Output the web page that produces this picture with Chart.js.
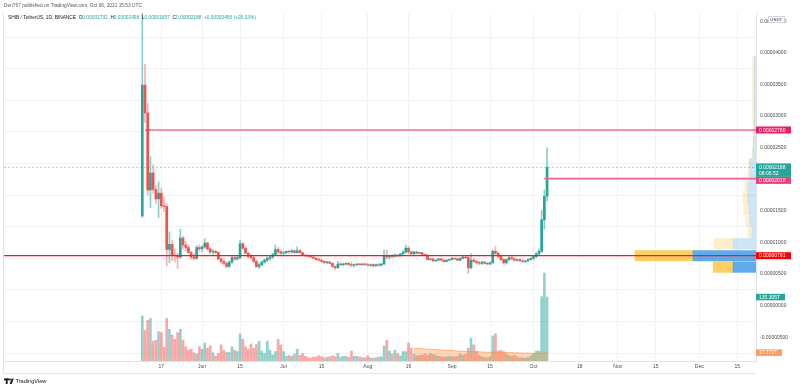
<!DOCTYPE html>
<html>
<head>
<meta charset="utf-8">
<script src="https://cdn.jsdelivr.net/npm/chart.js@4.4.0/dist/chart.umd.min.js"></script>
<style>
  html, body { margin: 0; padding: 0; background: #fff; }
</style>
</head>
<body>
<canvas id="chart" width="800" height="389"></canvas>
<script>
// prices in millionths of USDT (1 = 0.00000100), one candle per day from May 10, 2021 (day 0)
const opens = [
  14.2, 34.9, 30.5, 18.3, 21.0, 18.4, 16.9, 17.8, 15.8, 15.7,
  8.9, 9.7, 8.0, 7.9, 7.7, 10.7, 9.6, 9.2, 8.4, 7.7,
  7.5, 9.2, 9.0, 9.3, 9.9, 9.0, 8.5, 8.6, 8.4, 7.4,
  7.0, 6.7, 6.2, 6.9, 7.6, 7.4, 7.6, 9.8, 9.1, 8.3,
  7.8, 7.6, 7.0, 6.2, 6.5, 6.9, 7.2, 7.5, 7.7, 8.1,
  8.9, 8.5, 8.3, 8.4, 8.6, 8.5, 8.7, 8.4, 8.7, 8.4,
  8.0, 7.9, 7.8, 7.7, 7.5, 7.3, 7.2, 7.0, 6.8, 6.9,
  6.7, 6.2, 6.0, 6.6, 6.5, 6.6, 6.7, 6.5, 6.4, 6.5,
  6.6, 6.5, 6.6, 6.5, 6.4, 6.5, 6.3, 6.5, 6.4, 6.6,
  7.8, 7.7, 7.9, 7.8, 8.0, 7.9, 8.2, 8.5, 9.1, 8.5,
  8.2, 8.5, 8.3, 8.4, 8.1, 8.0, 7.3, 7.4, 7.1, 7.2,
  7.4, 7.2, 7.0, 7.2, 7.3, 7.5, 7.4, 7.2, 7.5, 7.7,
  7.6, 6.0, 7.2, 7.0, 6.8, 6.7, 6.9, 6.7, 6.6, 6.8,
  8.6, 8.3, 7.8, 7.3, 6.8, 7.3, 7.6, 7.4, 7.2, 7.3,
  7.1, 7.0, 7.1, 7.3, 7.5, 7.8, 8.2, 8.6, 13.6, 17.32
];
const highs = [
  52.0, 38.2, 32.0, 23.6, 22.3, 19.0, 19.6, 18.6, 17.2, 16.1,
  11.7, 10.3, 9.0, 8.3, 12.1, 11.0, 10.2, 9.6, 8.6, 8.2,
  9.5, 9.6, 9.5, 10.6, 10.1, 9.2, 8.9, 8.8, 8.6, 7.6,
  7.3, 7.0, 7.1, 7.8, 7.9, 8.0, 10.4, 10.0, 9.3, 8.5,
  8.1, 7.9, 7.3, 6.8, 7.1, 7.4, 7.7, 7.9, 8.3, 9.6,
  9.2, 8.8, 8.6, 8.7, 8.8, 8.9, 8.8, 9.3, 8.9, 8.5,
  8.2, 8.1, 8.0, 7.9, 7.6, 7.5, 7.3, 7.1, 7.0, 7.0,
  6.8, 6.3, 7.0, 6.8, 6.7, 6.8, 6.8, 6.9, 6.6, 6.7,
  6.7, 6.7, 6.8, 6.7, 6.6, 6.6, 6.6, 6.7, 6.7, 8.8,
  8.8, 8.0, 8.1, 8.2, 8.1, 8.3, 8.7, 9.6, 9.3, 8.6,
  8.6, 8.6, 8.5, 8.5, 8.2, 8.1, 7.5, 7.5, 7.3, 7.5,
  7.5, 7.3, 7.3, 7.4, 7.6, 7.6, 7.5, 7.6, 7.8, 7.8,
  7.8, 8.2, 7.5, 7.2, 7.0, 7.0, 7.0, 6.9, 6.9, 8.9,
  9.4, 8.5, 8.0, 7.4, 7.4, 7.8, 7.8, 7.6, 7.4, 7.4,
  7.3, 7.2, 7.4, 7.6, 7.9, 8.4, 9.0, 15.1, 18.3, 24.98
];
const lows = [
  14.0, 29.0, 17.5, 15.5, 17.8, 16.2, 13.9, 15.4, 14.9, 6.3,
  6.8, 7.1, 6.9, 5.9, 7.5, 9.0, 8.6, 8.2, 7.4, 7.2,
  7.3, 8.6, 8.5, 9.1, 8.8, 8.2, 8.1, 8.2, 7.3, 6.6,
  6.4, 6.0, 6.1, 6.7, 7.1, 7.2, 7.4, 8.9, 8.2, 7.6,
  7.4, 6.8, 6.0, 5.8, 6.3, 6.7, 7.0, 7.2, 7.5, 8.0,
  8.2, 8.1, 8.0, 8.2, 8.3, 8.3, 8.3, 8.3, 8.3, 7.9,
  7.8, 7.7, 7.6, 7.4, 7.2, 7.0, 6.9, 6.7, 6.6, 6.6,
  6.1, 5.7, 5.9, 6.3, 6.3, 6.4, 6.4, 6.2, 6.1, 6.3,
  6.4, 6.3, 6.4, 6.3, 6.2, 6.2, 6.2, 6.3, 6.3, 6.5,
  7.4, 7.4, 7.6, 7.7, 7.7, 7.8, 8.1, 8.3, 8.2, 7.9,
  8.1, 8.2, 8.2, 8.0, 7.9, 7.2, 7.2, 7.0, 7.0, 7.1,
  7.1, 6.9, 6.9, 7.1, 7.2, 7.3, 7.1, 7.1, 7.4, 7.5,
  5.1, 5.8, 6.9, 6.6, 6.5, 6.5, 6.6, 6.5, 6.5, 6.7,
  7.9, 7.6, 7.1, 6.6, 6.6, 7.1, 7.3, 7.0, 7.0, 7.0,
  6.9, 6.8, 7.0, 7.2, 7.3, 7.6, 8.0, 8.4, 12.1, 16.57
];
const closes = [
  34.9, 30.5, 18.3, 21.0, 18.4, 16.9, 17.8, 15.8, 15.7, 8.9,
  9.7, 8.0, 7.9, 7.7, 10.7, 9.6, 9.2, 8.4, 7.7, 7.5,
  9.2, 9.0, 9.3, 9.9, 9.0, 8.5, 8.6, 8.4, 7.4, 7.0,
  6.7, 6.2, 6.9, 7.6, 7.4, 7.6, 9.8, 9.1, 8.3, 7.8,
  7.6, 7.0, 6.2, 6.5, 6.9, 7.2, 7.5, 7.7, 8.1, 8.9,
  8.5, 8.3, 8.4, 8.6, 8.5, 8.7, 8.4, 8.7, 8.4, 8.0,
  7.9, 7.8, 7.7, 7.5, 7.3, 7.2, 7.0, 6.8, 6.9, 6.7,
  6.2, 6.0, 6.6, 6.5, 6.6, 6.7, 6.5, 6.4, 6.5, 6.6,
  6.5, 6.6, 6.5, 6.4, 6.5, 6.3, 6.5, 6.4, 6.6, 7.8,
  7.7, 7.9, 7.8, 8.0, 7.9, 8.2, 8.5, 9.1, 8.5, 8.2,
  8.5, 8.3, 8.4, 8.1, 8.0, 7.3, 7.4, 7.1, 7.2, 7.4,
  7.2, 7.0, 7.2, 7.3, 7.5, 7.4, 7.2, 7.5, 7.7, 7.6,
  6.0, 7.2, 7.0, 6.8, 6.7, 6.9, 6.7, 6.6, 6.8, 8.6,
  8.3, 7.8, 7.3, 6.8, 7.3, 7.6, 7.4, 7.2, 7.3, 7.1,
  7.0, 7.1, 7.3, 7.5, 7.8, 8.2, 8.6, 13.6, 17.32, 21.88
];
// daily volume, trillions of SHIB
const volumes = [
  95, 65, 86, 90, 42, 44, 62, 60, 29, 90,
  67, 55, 46, 60, 67, 44, 30, 23, 25, 17.5,
  15, 30, 25, 38, 27, 32, 17.5, 10.5, 16, 34,
  23, 18, 18, 30, 23, 20, 57, 46, 30, 25,
  36, 27, 35, 42, 21, 16, 42, 23, 12.7, 20,
  46, 34, 20, 10, 12, 10, 15, 25, 12, 16,
  10, 7, 6, 8, 9, 11, 9, 7, 8, 9,
  11, 9, 16, 8, 10, 10, 8, 21, 10, 10,
  9, 7, 7, 11, 7, 6, 7, 8, 9, 32,
  44, 21, 15, 23, 16, 11, 20, 20, 38, 27,
  15, 11, 12, 12, 15, 12, 16, 14, 12, 10,
  9, 8, 9, 10, 9, 9, 10, 15, 12, 14,
  27, 48, 34, 20, 12, 9, 7, 7, 9, 53,
  58, 21, 23, 20, 15, 12, 10, 12, 9, 7,
  7, 6, 8, 11, 15, 21, 21, 136, 186, 135.305
];
// volume moving average, shown from day 100 (Aug 18)
const volMaStart = 100;
const volMa = [
  26.8, 26.5, 26.1, 25.8, 25.4, 25.0, 24.7, 24.3, 24.0, 23.6,
  23.2, 22.9, 22.5, 22.2, 21.8, 21.5, 21.2, 20.8, 20.5, 20.2,
  20.0, 20.1, 20.0, 19.7, 19.3, 19.0, 18.7, 18.5, 18.3, 18.6,
  18.9, 18.7, 18.5, 18.2, 18.0, 17.8, 17.6, 17.4, 17.2, 17.0,
  16.8, 16.6, 16.5, 16.4, 16.3, 16.3, 16.4, 16.9, 17.4, 17.771
];

// visible range volume profile: row bottom price, up / down volume, value area flag
const profileLow = [5.2, 7.0, 8.9, 10.7, 12.5, 14.3, 16.1, 17.9, 19.7, 21.5, 23.3, 25.1, 26.9, 28.7, 30.5, 32.3, 34.1, 35.9, 37.7];
const profileUp = [122, 335, 122, 21, 32, 37, 43, 43, 32, 32, 16, 12, 9, 9, 9, 9, 9, 9, 9];
const profileDown = [106, 309, 101, 21, 21, 27, 27, 16, 11, 8, 3, 5, 9, 9, 9, 9, 9, 9, 9];
const profileInValue = [true, true, false, false, false, false, false, false, false, false, false, false, false, false, false, false, false, false, false];
const profileRow = 1.8;

// drawn horizontal levels
const levelPrices = [7.91, 27.80, 20.10];
const levelStartDays = [null, 1, 148];
const levelColors = ['#f01b1b', '#d62f62', '#f06292'];
const levelLabelColors = ['#ff0000', '#e91e63', '#ec407a'];

// time axis
const xTickDays = [7, 22, 36, 52, 66, 83, 98, 114, 128, 144, 161, 175, 189, 205, 219];
const xTickLabels = ['17', 'Jun', '15', 'Jul', '15', 'Aug', '16', 'Sep', '15', 'Oct', '18', 'Nov', '15', 'Dec', '15'];

const X_MIN = -50.9, X_MAX = 225.9;
const UP = '#26a69a', DOWN = '#ef5350';
const UP_SOFT = 'rgba(38,166,154,0.5)', DOWN_SOFT = 'rgba(239,83,80,0.5)';
const FONT = '"Liberation Sans", Arial, sans-serif';
const fmt = v => (v / 1e6).toFixed(8);

const isUp = opens.map((o, i) => closes[i] >= o);
const last = closes.length - 1;

const datasets = [];

datasets.push({
  type: 'bar', label: 'volume', yAxisID: 'yVol', xAxisID: 'x', order: 10,
  data: volumes.map((v, i) => ({ x: i, y: v })),
  backgroundColor: isUp.map(u => u ? UP_SOFT : DOWN_SOFT),
  barThickness: 2, grouped: false
});
datasets.push({
  type: 'line', label: 'volume ma', yAxisID: 'yVol', xAxisID: 'x', order: 9,
  data: volMa.map((v, k) => ({ x: volMaStart + k, y: v })),
  borderColor: 'rgba(255,140,60,0.6)', borderWidth: 1,
  backgroundColor: 'rgba(255,140,60,0.35)', fill: 'origin',
  pointRadius: 0, tension: 0
});
datasets.push({
  type: 'bar', label: 'profile up', indexAxis: 'y', xAxisID: 'xProf', yAxisID: 'y', order: 8,
  data: profileLow.map((p, i) => ({ x: [0, profileUp[i]], y: p + profileRow / 2 })),
  backgroundColor: profileInValue.map(f => f ? 'rgba(30,136,229,0.7)' : 'rgba(30,136,229,0.22)'),
  barThickness: 10.5, grouped: false
});
datasets.push({
  type: 'bar', label: 'profile down', indexAxis: 'y', xAxisID: 'xProf', yAxisID: 'y', order: 8,
  data: profileLow.map((p, i) => ({ x: [profileUp[i], profileUp[i] + profileDown[i]], y: p + profileRow / 2 })),
  backgroundColor: profileInValue.map(f => f ? 'rgba(251,192,45,0.75)' : 'rgba(251,192,45,0.25)'),
  barThickness: 10.5, grouped: false
});
datasets.push({
  type: 'line', label: 'last price', xAxisID: 'x', yAxisID: 'y', order: 7,
  data: [{ x: X_MIN, y: closes[last] }, { x: X_MAX, y: closes[last] }],
  borderColor: 'rgba(38,166,154,0.45)', borderWidth: 1, borderDash: [2, 2],
  pointRadius: 0, fill: false
});
datasets.push({
  type: 'bar', label: 'wicks', xAxisID: 'x', yAxisID: 'y', order: 3,
  data: lows.map((l, i) => ({ x: i, y: [l, highs[i]] })),
  backgroundColor: isUp.map(u => u ? 'rgba(38,166,154,0.55)' : 'rgba(239,83,80,0.45)'),
  barThickness: 1, grouped: false
});
datasets.push({
  type: 'bar', label: 'bodies', xAxisID: 'x', yAxisID: 'y', order: 2,
  data: opens.map((o, i) => ({ x: i, y: [o, closes[i]] })),
  backgroundColor: isUp.map(u => u ? UP : DOWN),
  barThickness: 2, grouped: false
});
levelPrices.forEach((p, k) => {
  datasets.push({
    type: 'line', label: 'level ' + k, xAxisID: 'x', yAxisID: 'y', order: 1,
    data: [{ x: levelStartDays[k] === null ? X_MIN : levelStartDays[k], y: p }, { x: X_MAX, y: p }],
    borderColor: levelColors[k], borderWidth: k === 2 ? 1.6 : 1.2,
    pointRadius: 0, fill: false
  });
});

function badge(ctx, x, yc, text, bg, h) {
  ctx.font = '5px ' + FONT;
  const w = 35;
  ctx.fillStyle = bg;
  ctx.fillRect(x, yc - h / 2, w, h);
  ctx.fillStyle = '#fff';
  ctx.textBaseline = 'middle';
  ctx.textAlign = 'left';
  ctx.fillText(text, x + 3, yc + 0.3);
}

const decor = {
  id: 'decor',
  afterDraw(chart) {
    const ctx = chart.ctx;
    const ys = chart.scales.y, yv = chart.scales.yVol, area = chart.chartArea;
    ctx.save();
    // frame lines
    ctx.strokeStyle = '#e0e3eb';
    ctx.lineWidth = 1;
    ctx.beginPath();
    ctx.moveTo(area.left, area.bottom + 12.5); ctx.lineTo(area.right, area.bottom + 12.5);
    ctx.moveTo(area.left - 0.5, area.top); ctx.lineTo(area.left - 0.5, area.bottom + 12.5);
    ctx.stroke();

    // header
    ctx.textBaseline = 'middle';
    ctx.textAlign = 'left';
    ctx.font = '4.8px ' + FONT;
    ctx.fillStyle = '#555';
    ctx.fillText('Den767 published on TradingView.com, Oct 06, 2021 15:53 UTC', 4, 6);
    const chg = closes[last] - closes[last - 1];
    const pct = chg / closes[last - 1] * 100;
    const parts = [
      ['SHIB / TetherUS, 1D, BINANCE  ', '#131722'],
      ['O', '#131722'], [fmt(opens[last]), UP],
      ['  H', '#131722'], [fmt(highs[last]), UP],
      ['  L', '#131722'], [fmt(lows[last]), UP],
      ['  C', '#131722'], [fmt(closes[last]), UP],
      ['  +' + fmt(chg) + ' (+' + pct.toFixed(2) + '%)', UP]
    ];
    let x = 8;
    parts.forEach(([t, c]) => {
      ctx.fillStyle = c;
      ctx.fillText(t, x, 18);
      x += ctx.measureText(t).width;
    });

    // price scale badges
    const bx = area.right;
    const curY = ys.getPixelForValue(closes[last]);
    badge(ctx, bx, ys.getPixelForValue(levelPrices[1]), fmt(levelPrices[1]), levelLabelColors[1], 7);
    ctx.fillStyle = UP;
    ctx.fillRect(bx, curY - 4, 35, 13.5);
    ctx.fillStyle = '#fff';
    ctx.font = '5px ' + FONT;
    ctx.fillText(fmt(closes[last]), bx + 3, curY);
    ctx.fillText('08:06:52', bx + 3, curY + 6);
    const y2010 = Math.max(ys.getPixelForValue(levelPrices[2]), curY + 9.5 + 3.5);
    badge(ctx, bx, y2010, fmt(levelPrices[2]), levelLabelColors[2], 7);
    badge(ctx, bx, ys.getPixelForValue(levelPrices[0]), fmt(levelPrices[0]), levelLabelColors[0], 7);
    // volume badges
    ctx.font = '5px ' + FONT;
    const vY = yv.getPixelForValue(volumes[last]);
    ctx.fillStyle = UP;
    ctx.fillRect(bx, vY - 3.2, 29, 6.5);
    ctx.fillStyle = '#fff';
    ctx.fillText(volumes[last].toFixed(3) + 'T', bx + 3, vY + 0.3);
    const mY = yv.getPixelForValue(volMa[volMa.length - 1]);
    ctx.fillStyle = '#ff9b57';
    ctx.fillRect(bx, mY - 3.2, 26, 6.5);
    ctx.fillStyle = '#fff';
    ctx.fillText(volMa[volMa.length - 1].toFixed(3) + 'T', bx + 3, mY + 0.3);

    // currency box
    ctx.fillStyle = '#fff';
    ctx.strokeStyle = '#d1d4dc';
    ctx.fillRect(768, 16.5, 17, 6.5);
    ctx.strokeRect(768.5, 16.5, 16, 6);
    ctx.fillStyle = '#131722';
    ctx.font = '4.4px ' + FONT;
    ctx.fillText('USDT', 770.3, 19.9);

    // logo
    ctx.fillStyle = '#131722';
    ctx.fillRect(4, 378.5, 5, 1.8);
    ctx.fillRect(5.8, 378.5, 1.8, 5.5);
    ctx.beginPath(); ctx.arc(10, 379.5, 1, 0, Math.PI * 2); ctx.fill();
    ctx.beginPath();
    ctx.moveTo(11.8, 378.5); ctx.lineTo(13.8, 378.5); ctx.lineTo(11.6, 384); ctx.lineTo(9.6, 384);
    ctx.closePath(); ctx.fill();
    ctx.font = '5.6px ' + FONT;
    ctx.fillText('TradingView', 15.5, 381.5);
    ctx.restore();
  }
};

new Chart(document.getElementById('chart'), {
  type: 'bar',
  data: { datasets },
  options: {
    responsive: false,
    animation: false,
    layout: { padding: { left: 4, right: 4, top: 13, bottom: 16 } },
    plugins: { legend: { display: false }, tooltip: { enabled: false } },
    scales: {
      x: {
        type: 'linear', position: 'bottom', min: X_MIN, max: X_MAX, offset: false,
        grid: { color: '#f0f2f5', drawTicks: false, offset: false },
        border: { color: '#e0e3eb' },
        afterBuildTicks: s => { s.ticks = xTickDays.map(v => ({ value: v })); },
        afterFit: s => { s.height = 12; },
        ticks: {
          autoSkip: false, maxRotation: 0, padding: 3, color: '#4a4a4a',
          font: { size: 5, family: FONT },
          callback: v => xTickLabels[xTickDays.indexOf(v)]
        }
      },
      y: {
        type: 'linear', position: 'right', min: -8.75, max: 46.31, offset: false,
        grid: { color: '#f0f2f5', drawTicks: false },
        border: { color: '#e0e3eb' },
        afterFit: s => { s.width = 40; },
        ticks: {
          stepSize: 5, includeBounds: false, padding: 4, color: '#4a4a4a',
          font: { size: 5, family: FONT },
          callback: v => fmt(v)
        }
      },
      yVol: { type: 'linear', display: false, min: 0, max: 736, offset: false },
      xProf: { type: 'linear', display: false, min: 0, max: 4000, reverse: true, offset: false }
    }
  },
  plugins: [decor]
});
</script>
</body>
</html>
